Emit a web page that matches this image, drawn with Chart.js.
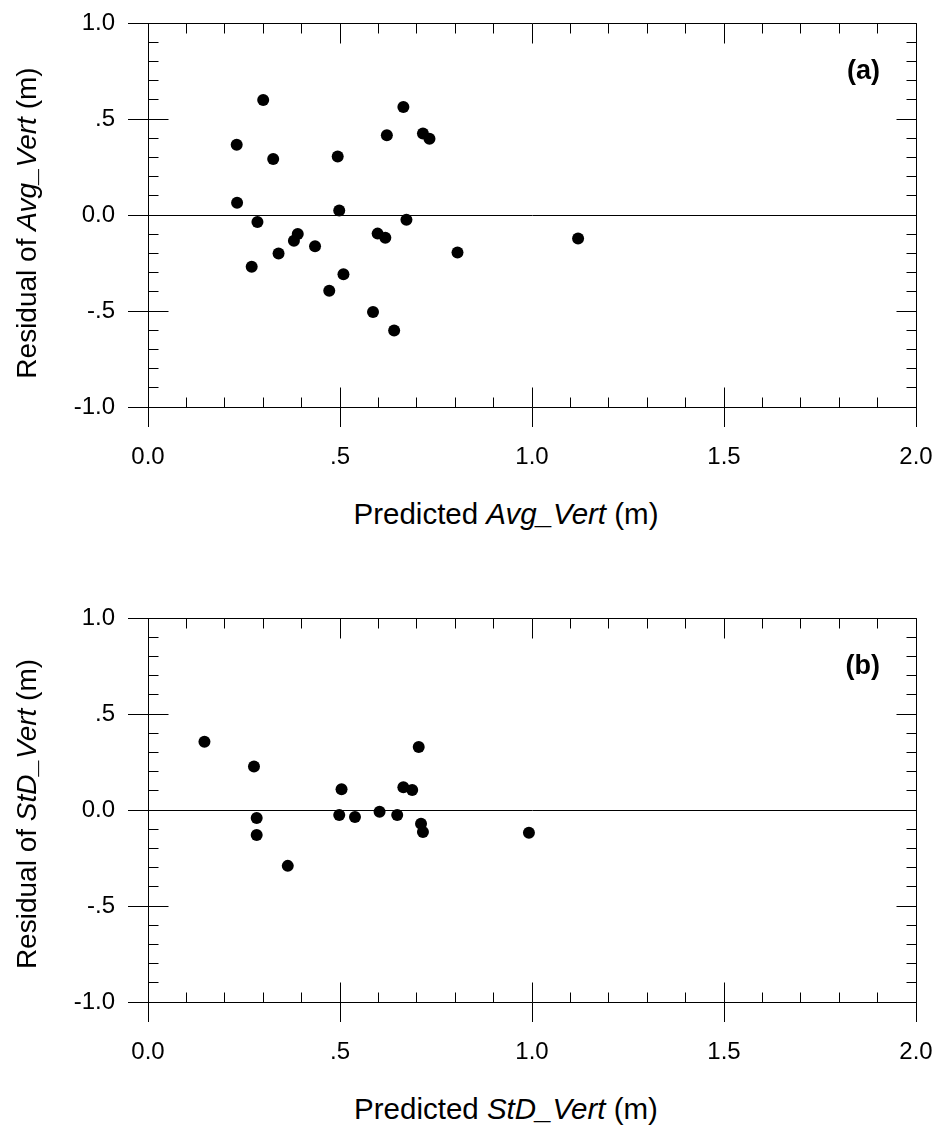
<!DOCTYPE html>
<html>
<head>
<meta charset="utf-8">
<script src="https://cdn.jsdelivr.net/npm/chart.js@4.4.1/dist/chart.umd.min.js"></script>
<style>
  html, body { margin: 0; padding: 0; background: #fff; }
  #wrap { position: relative; width: 939px; height: 1127px; overflow: hidden; }
  canvas { position: absolute; left: 0; }
  .t { position: absolute; font-family: "Liberation Sans", Arial, sans-serif; font-size: 28px; line-height: 28px; color: #000; white-space: nowrap; }
  .xt { transform: translate(-50%, -50%); font-size: 29.5px; line-height: 29.5px; }
  .yt { transform: translate(-50%, -50%) rotate(-90deg); }
  .lab { position: absolute; font-family: "Liberation Sans", Arial, sans-serif; font-size: 27px; line-height: 27px; font-weight: bold; color: #000; transform: translateX(-100%); }
</style>
</head>
<body>
<div id="wrap">
  <canvas id="c1" width="939" height="480" style="top:0px"></canvas>
  <canvas id="c2" width="939" height="480" style="top:595px"></canvas>
  <div class="t yt" style="left:27px; top:223px">Residual of <i>Avg_Vert</i> (m)</div>
  <div class="t xt" style="left:506px; top:514px">Predicted <i>Avg_Vert</i> (m)</div>
  <div class="lab" style="left:880px; top:57px">(a)</div>
  <div class="t yt" style="left:27px; top:814px">Residual of <i>StD_Vert</i> (m)</div>
  <div class="t xt" style="left:506px; top:1109px">Predicted <i>StD_Vert</i> (m)</div>
  <div class="lab" style="left:880px; top:652px">(b)</div>
</div>
<script>
// ---- data ----
const xTickValues = [0, 0.5, 1, 1.5, 2];
const xTickLabels = ['0.0', '.5', '1.0', '1.5', '2.0'];
const yTickValues = [-1, -0.5, 0, 0.5, 1];
const yTickLabels = ['-1.0', '-.5', '0.0', '.5', '1.0'];

// (a) Predicted Avg_Vert vs residual
const predAvgVert = [0.300, 0.665, 0.622, 0.716, 0.733, 0.231, 0.326, 0.494, 0.232, 0.498,
                     0.285, 0.673, 0.390, 0.380, 0.340, 0.435, 0.598, 0.618, 0.806, 0.270,
                     0.509, 0.472, 0.586, 0.641, 1.120];
const residAvgVert = [0.599, 0.562, 0.415, 0.425, 0.397, 0.366, 0.292, 0.305, 0.064, 0.023,
                      -0.036, -0.025, -0.099, -0.134, -0.200, -0.163, -0.097, -0.118, -0.195, -0.269,
                      -0.309, -0.394, -0.505, -0.601, -0.122];

// (b) Predicted StD_Vert vs residual
const predStdVert = [0.147, 0.276, 0.705, 0.504, 0.665, 0.688, 0.283, 0.283, 0.498, 0.539,
                     0.603, 0.649, 0.711, 0.716, 0.992, 0.364];
const residStdVert = [0.355, 0.227, 0.328, 0.108, 0.118, 0.104, -0.042, -0.130, -0.026, -0.036,
                      -0.009, -0.026, -0.072, -0.115, -0.118, -0.291];

function alignPx(p) { return Math.round(p - 0.5) + 0.5; }

const frameTicks = {
  id: 'frameTicks',
  afterDraw(chart) {
    const { ctx, chartArea: a, scales } = chart;
    const xs = scales.x, ys = scales.y;
    const L = alignPx(a.left), R = alignPx(a.right), T = alignPx(a.top), B = alignPx(a.bottom);
    ctx.save();
    ctx.strokeStyle = '#000';
    ctx.lineWidth = 1;
    ctx.beginPath();
    ctx.moveTo(L, T); ctx.lineTo(R, T);
    ctx.moveTo(R, T); ctx.lineTo(R, B);
    const y0 = alignPx(ys.getPixelForValue(0));
    ctx.moveTo(L, y0); ctx.lineTo(R, y0);
    for (let i = 0; i <= 20; i++) {
      const len = (i % 5 === 0) ? 20 : 10;
      const X = alignPx(xs.getPixelForValue(i / 10));
      ctx.moveTo(X, B); ctx.lineTo(X, B - len);
      ctx.moveTo(X, T); ctx.lineTo(X, T + len);
    }
    for (let i = -10; i <= 10; i++) {
      const len = (Math.abs(i) % 5 === 0) ? 20 : 10;
      const Y = alignPx(ys.getPixelForValue(i / 10));
      ctx.moveTo(L, Y); ctx.lineTo(L + len, Y);
      ctx.moveTo(R, Y); ctx.lineTo(R - len, Y);
    }
    ctx.stroke();
    ctx.restore();
  }
};

const tickFont = { family: '"Liberation Sans", Arial, sans-serif', size: 24 };

function zeroPad(s) { s.paddingLeft = 0; s.paddingRight = 0; s.paddingTop = 0; s.paddingBottom = 0; }

function makeChart(id, xs, ys) {
  const pts = xs.map((v, i) => ({ x: v, y: ys[i] }));
  return new Chart(document.getElementById(id), {
    type: 'scatter',
    data: { datasets: [{ data: pts, backgroundColor: '#000', borderWidth: 0, pointRadius: 6, pointHoverRadius: 6 }] },
    options: {
      responsive: false,
      devicePixelRatio: 1,
      animation: false,
      events: [],
      layout: { padding: { left: 0, right: 23, top: 23, bottom: 0 } },
      plugins: { legend: { display: false }, tooltip: { enabled: false }, title: { display: false } },
      scales: {
        x: {
          type: 'linear', min: 0, max: 2,
          afterBuildTicks: s => { s.ticks = xTickValues.map(v => ({ value: v })); },
          afterFit: s => { s.height = 73; zeroPad(s); },
          ticks: {
            autoSkip: false, maxRotation: 0, padding: 16, color: '#000', font: tickFont,
            callback: v => { const k = xTickValues.findIndex(t => Math.abs(t - v) < 1e-9); return k >= 0 ? xTickLabels[k] : ''; }
          },
          grid: { display: true, drawOnChartArea: false, drawTicks: true, tickLength: 20, color: '#000', lineWidth: 1 },
          border: { display: true, color: '#000', width: 1 }
        },
        y: {
          type: 'linear', min: -1, max: 1,
          afterBuildTicks: s => { s.ticks = yTickValues.map(v => ({ value: v })); },
          afterFit: s => { s.width = 148; zeroPad(s); },
          ticks: {
            autoSkip: false, padding: 13, color: '#000', font: tickFont,
            callback: v => { const k = yTickValues.findIndex(t => Math.abs(t - v) < 1e-9); return k >= 0 ? yTickLabels[k] : ''; }
          },
          grid: { display: true, drawOnChartArea: false, drawTicks: true, tickLength: 20, color: '#000', lineWidth: 1 },
          border: { display: true, color: '#000', width: 1 }
        }
      }
    },
    plugins: [frameTicks]
  });
}

makeChart('c1', predAvgVert, residAvgVert);
makeChart('c2', predStdVert, residStdVert);
</script>
</body>
</html>
